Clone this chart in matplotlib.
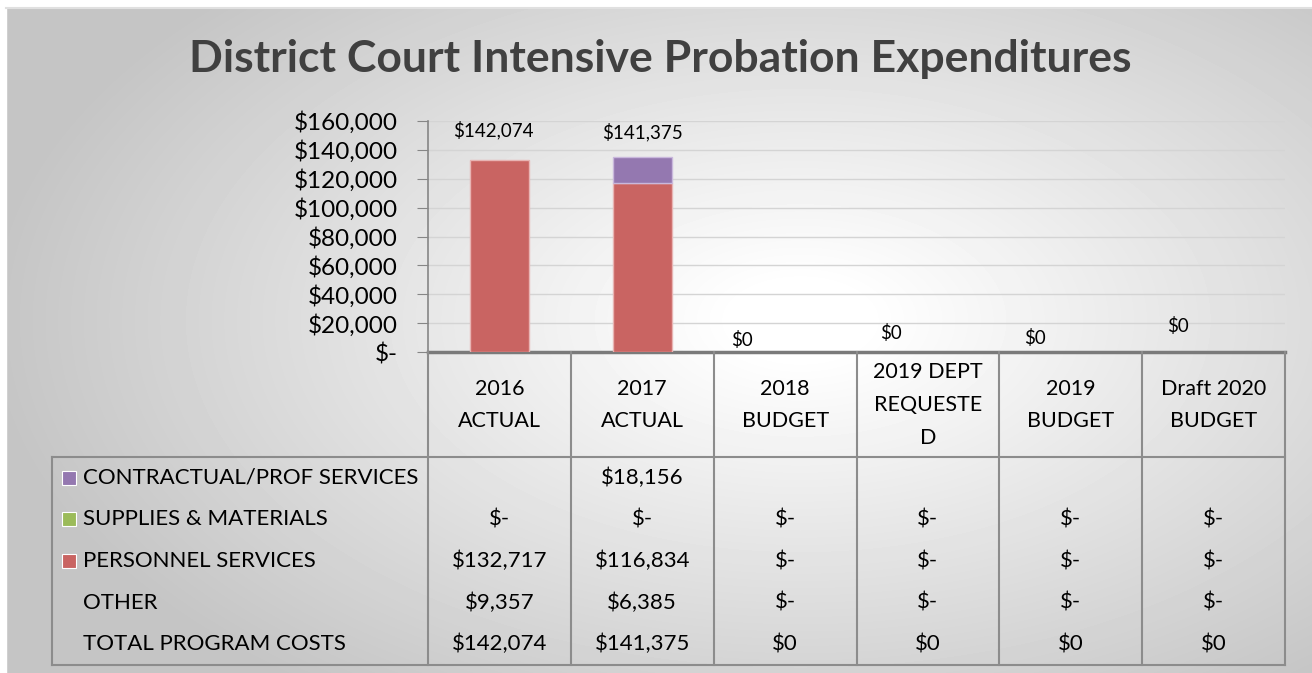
import numpy as np
import matplotlib
matplotlib.use('Agg')
import matplotlib.pyplot as plt
from matplotlib.patches import Rectangle

categorias = ['2016\nACTUAL', '2017\nACTUAL', '2018\nBUDGET',
              '2019 DEPT\nREQUESTE\nD', '2019\nBUDGET', 'Draft 2020\nBUDGET']
contractual = [0, 18156, 0, 0, 0, 0]
suministros = [0, 0, 0, 0, 0, 0]
personal = [132717, 116834, 0, 0, 0, 0]
otros = [9357, 6385, 0, 0, 0, 0]
total = [142074, 141375, 0, 0, 0, 0]

filas = ['CONTRACTUAL/PROF SERVICES', 'SUPPLIES & MATERIALS',
         'PERSONNEL SERVICES', 'OTHER', 'TOTAL PROGRAM COSTS']
celdas = [
    ['', '$18,156', '', '', '', ''],
    ['$-', '$-', '$-', '$-', '$-', '$-'],
    ['$132,717', '$116,834', '$-', '$-', '$-', '$-'],
    ['$9,357', '$6,385', '$-', '$-', '$-', '$-'],
    ['$142,074', '$141,375', '$0', '$0', '$0', '$0'],
]
ticks_y = [0, 20000, 40000, 60000, 80000, 100000, 120000, 140000, 160000]

# Colores
c_rojo = '#C96462'
c_morado = '#9478B0'
c_verde = '#9BBB59'
colores_fila = [c_morado, c_verde, c_rojo, None, None]

# Desplazamientos de las etiquetas de totales (como en el original)
desp_x = [-0.04, 0.0, -0.30, -0.26, -0.25, -0.25]
y_etq = [154000, 152000, 8300, 13000, 9700, 18000]

W, H = 1312, 673
plt.rcParams['font.family'] = ['Lato', 'DejaVu Sans']
fig = plt.figure(figsize=(W / 100, H / 100), dpi=100)

# Fondo con degradado radial
ax_bg = fig.add_axes([0, 0, 1, 1], zorder=0)
yy, xx = np.mgrid[0:H, 0:W]
d = np.sqrt(((xx - 800) / 850) ** 2 + ((yy - 320) / 480) ** 2)
val = np.clip(1.02 - 0.26 * d, 0.77, 1.0)
ax_bg.imshow(val, cmap='gray', vmin=0, vmax=1, extent=[0, W, H, 0], aspect='auto')
ax_bg.add_patch(Rectangle((0, 0), 6, H, color='white', zorder=3))
ax_bg.add_patch(Rectangle((0, 0), W, 7, color='white', zorder=3))
ax_bg.plot([6, W], [7.5, 7.5], color='#e0e0e0', lw=1.5, zorder=4)
ax_bg.set_xlim(0, W)
ax_bg.set_ylim(H, 0)
ax_bg.axis('off')

fig.text(660 / W, 1 - 59 / H, 'District Court Intensive Probation Expenditures',
         ha='center', va='center', fontsize=32, fontweight='bold', color='#404040')

# Área del gráfico
x0, x1, ytop, ybot = 428, 1285, 121, 352
ax = fig.add_axes([x0 / W, 1 - ybot / H, (x1 - x0) / W, (ybot - ytop) / H], zorder=1)
ax.set_facecolor('none')
x = np.arange(len(categorias))
ancho = 0.41


def grosor(vals):
    return [1 if v else 0 for v in vals]


ax.bar(x, personal, ancho, color=c_rojo, edgecolor='#e8b4b3',
       linewidth=grosor(personal), zorder=3)
base = np.array(personal)
ax.bar(x, suministros, ancho, bottom=base, color=c_verde,
       linewidth=grosor(suministros), zorder=3)
base = base + np.array(suministros)
ax.bar(x, contractual, ancho, bottom=base, color=c_morado, edgecolor='#c9b8dc',
       linewidth=grosor(contractual), zorder=3)

for i, t in enumerate(total):
    ax.text(x[i] + desp_x[i], y_etq[i], f'${t:,.0f}', ha='center', va='center',
            fontsize=13.5, color='#000000', zorder=4)

ax.set_xlim(-0.5, len(categorias) - 0.5)
ax.set_ylim(0, 160000)
ax.set_yticks(ticks_y)
ax.set_yticklabels(['$-'] + [f'${v:,.0f}' for v in ticks_y[1:]])
ax.tick_params(axis='y', labelsize=17.5, length=8, color='#868686', pad=14)
ax.set_xticks([])
ax.grid(axis='y', color='#d4d4d4', linewidth=1, zorder=0)
for s in ['top', 'right']:
    ax.spines[s].set_visible(False)
ax.spines['left'].set_color('#868686')
ax.spines['left'].set_linewidth(1.2)
ax.spines['bottom'].set_color('#7a7a7a')
ax.spines['bottom'].set_linewidth(2.5)

# Tabla de datos
ax_t = fig.add_axes([0, 0, 1, 1], zorder=2)
ax_t.set_facecolor('none')
ax_t.set_xlim(0, W)
ax_t.set_ylim(H, 0)
ax_t.axis('off')
gris = '#8c8c8c'
ancho_col = (x1 - x0) / len(categorias)
bordes = [x0 + i * ancho_col for i in range(len(categorias) + 1)]
y_cab, y_fin, xl = 457, 665, 52
for bx in bordes:
    ax_t.plot([bx, bx], [ybot, y_fin], color=gris, lw=1.5)
ax_t.plot([xl, x1], [y_cab, y_cab], color=gris, lw=1.5)
ax_t.plot([xl, x1], [y_fin, y_fin], color=gris, lw=1.5)
ax_t.plot([xl, xl], [y_cab, y_fin], color=gris, lw=1.5)

for i, cat in enumerate(categorias):
    ax_t.text((bordes[i] + bordes[i + 1]) / 2, 405, cat, ha='center', va='center',
              fontsize=15.5, linespacing=1.8, color='#000000')

alto_fila = (y_fin - y_cab) / len(filas)
for r, nombre in enumerate(filas):
    yc = y_cab + alto_fila * (r + 0.5)
    if colores_fila[r]:
        ax_t.add_patch(Rectangle((62, yc - 7), 14, 14, facecolor=colores_fila[r],
                                 edgecolor='white', lw=0.8))
    ax_t.text(83, yc, nombre, ha='left', va='center', fontsize=16, color='#000000')
    for c in range(len(categorias)):
        ax_t.text((bordes[c] + bordes[c + 1]) / 2, yc, celdas[r][c], ha='center',
                  va='center', fontsize=16, color='#000000')

fig.savefig('out.png', dpi=100)
